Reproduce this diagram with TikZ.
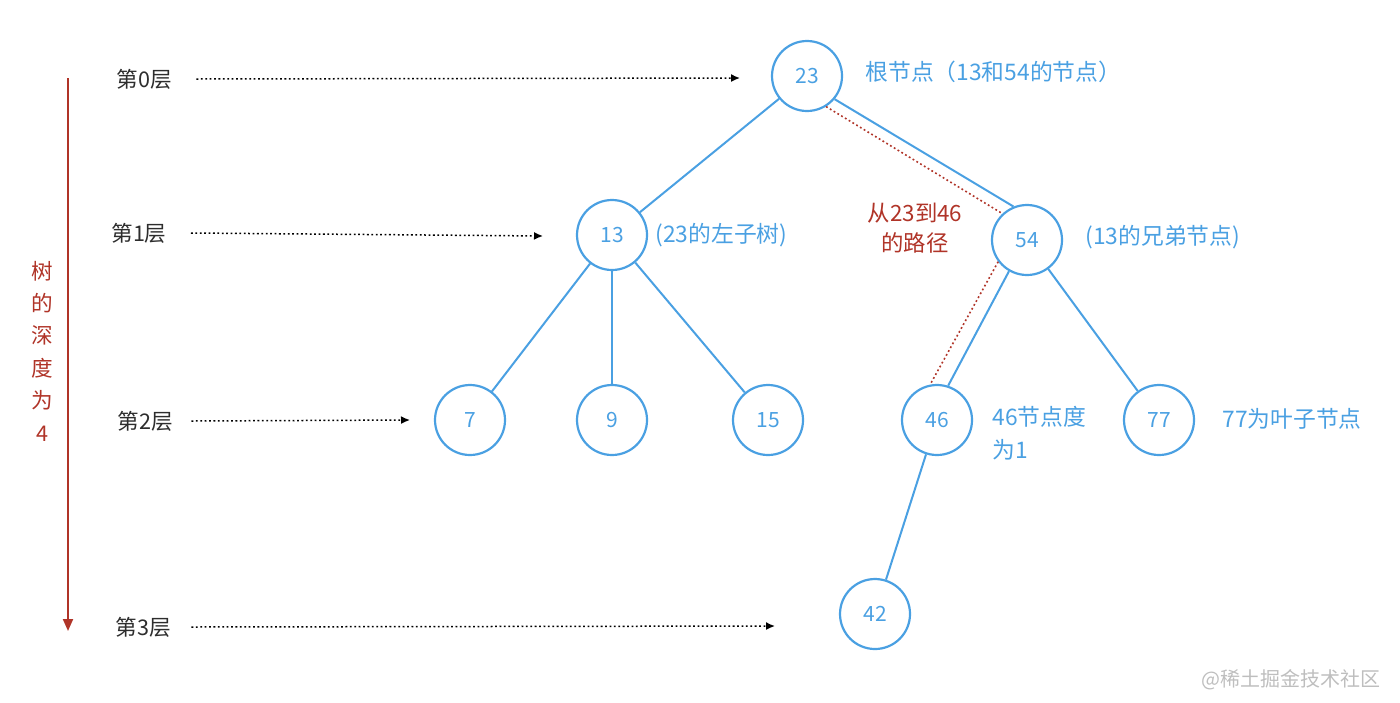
\documentclass[tikz,border=0pt]{standalone}
\usepackage{fontspec}
\setmainfont{Noto Sans CJK SC}
\usetikzlibrary{arrows.meta}
\definecolor{tblue}{RGB}{74,160,226}
\definecolor{tred}{RGB}{176,52,40}
\definecolor{tgray}{RGB}{190,190,190}
\definecolor{tdark}{RGB}{45,45,45}
\begin{document}
\begin{tikzpicture}[x=0.5pt,y=-0.5pt,
  tnode/.style={circle,draw=tblue,line width=1.1pt,minimum size=35pt,inner sep=0pt,text=tblue,font=\fontsize{10.5}{12}\selectfont},
  edge/.style={draw=tblue,line width=1pt},
  redpath/.style={draw=tred,line width=0.8pt,dash pattern=on 0.9pt off 1.3pt},
  layer/.style={text=tdark,font=\fontsize{10.8}{12}\selectfont,inner sep=0pt},
  levelarrow/.style={draw=black,line width=0.75pt,dash pattern=on 0.9pt off 1.3pt,-{Latex[length=4.5pt,width=4pt]}},
  note/.style={text=tblue,font=\fontsize{11.4}{13}\selectfont,inner sep=0pt,anchor=west},
  rednote/.style={text=tred,font=\fontsize{11.2}{15}\selectfont,inner sep=0pt,align=center},
]
\useasboundingbox (0,0) rectangle (1400,702);

% tree nodes
\node[tnode] (n23) at (807,76) {23};
\node[tnode] (n13) at (612,235) {13};
\node[tnode] (n54) at (1027,240) {54};
\node[tnode] (n7)  at (470,420) {7};
\node[tnode] (n9)  at (612,420) {9};
\node[tnode] (n15) at (768,420) {15};
\node[tnode] (n46) at (937,420) {46};
\node[tnode] (n77) at (1159,420) {77};
\node[tnode] (n42) at (875,614) {42};

% edges
\draw[edge] (n23) -- (n13);
\draw[edge] (n13) -- (n7);
\draw[edge] (n13) -- (n9);
\draw[edge] (n13) -- (n15);
\draw[edge] (n23.-40) -- (n54.112);
\draw[edge] (n54.240) -- (n46.72);
\draw[edge] (n54) -- (n77);
\draw[edge] (n46) -- (n42);

% red path
\draw[redpath] (n23.-58) -- (n54.133);
\draw[redpath] (n54.217) -- (n46.101);

% notes
\node[note] (t23) at (865,72) {根节点（13和54的节点）};
\node[note] (t13) at (655,235) {(23的左子树)};
\node[note] (t54) at (1085,237) {(13的兄弟节点)};
\node[note,align=left,font=\fontsize{11.4}{16.5}\selectfont] (t46) at (992,433) {46节点度\\为1};
\node[note] (t77) at (1222,419) {77为叶子节点};
\node[rednote] (tpath) at (915,228) {从23到46\\的路径};

% layer labels
\node[layer] (l0) at (144.5,79) {第0层};
\node[layer] (l1) at (139,233) {第1层};
\node[layer] (l2) at (145.5,421) {第2层};
\node[layer] (l3) at (143.5,627) {第3层};
\coordinate (a0) at (740,78);
\coordinate (a1) at (543,236);
\coordinate (a2) at (410,420);
\coordinate (a3) at (775,626);
\draw[levelarrow] ([xshift=12pt]l0.east) -- (a0);
\draw[levelarrow] ([xshift=12pt]l1.east) -- (a1);
\draw[levelarrow] ([xshift=9pt]l2.east) -- (a2);
\draw[levelarrow] ([xshift=10pt]l3.east) -- (a3);

% depth arrow
\coordinate (d0) at (68,78);
\coordinate (d1) at (68,631);
\draw[tred,line width=1pt,-{Triangle[length=6pt,width=5pt]}] (d0) -- (d1);
\node[text=tred,font=\fontsize{10.8}{16.2}\selectfont,align=center,inner sep=0pt] (depth) at (42,351) {树\\的\\深\\度\\为\\4};

% watermark
\node[text=tgray,font=\fontsize{10}{12}\selectfont,inner sep=0pt,anchor=east] (wm) at (1381,680) {@稀土掘金技术社区};
\end{tikzpicture}
\end{document}
